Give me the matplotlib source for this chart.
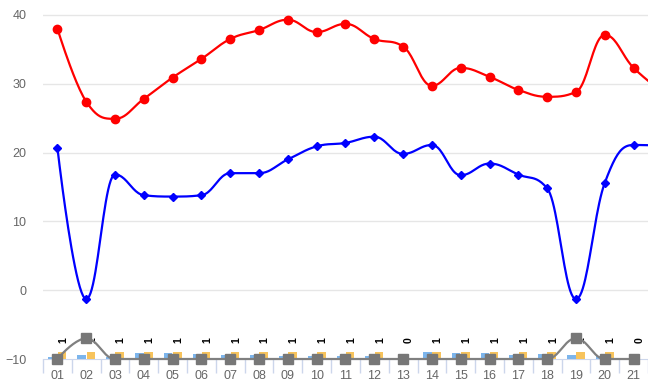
import numpy as np
import matplotlib
matplotlib.use("Agg")
import matplotlib.pyplot as plt

days = ["01", "02", "03", "04", "05", "06", "07", "08", "09", "10", "11",
        "12", "13", "14", "15", "16", "17", "18", "19", "20", "21"]
# last value of each line series belongs to the (cut-off) 22nd category
red_vals = [38.0, 27.4, 24.9, 27.8, 30.9, 33.6, 36.5, 37.8, 39.3, 37.5, 38.7,
            36.5, 35.4, 29.7, 32.3, 31.0, 29.1, 28.1, 28.8, 37.1, 32.3, 28.8]
blue_vals = [20.7, -1.3, 16.8, 13.8, 13.6, 13.8, 17.0, 17.0, 19.0, 20.9, 21.4,
             22.3, 19.8, 21.1, 16.7, 18.4, 16.8, 14.8, -1.3, 15.6, 21.1, 21.0]
gray_vals = [-10, -7, -10, -10, -10, -10, -10, -10, -10, -10, -10,
             -10, -10, -10, -10, -10, -10, -10, -7, -10, -10]
blue_bars = [0.3, 0.6, 0.35, 0.8, 0.8, 0.75, 0.6, 0.55, 0.45, 0.45, 0.45,
             0.45, 0.0, 0.95, 0.8, 0.8, 0.6, 0.75, 0.55, 0.5, 0.0]
orange_bars = [1.0, 1.0, 1.0, 1.0, 1.0, 1.0, 1.0, 1.0, 1.0, 1.0, 1.0,
               1.0, 0.0, 1.0, 1.0, 1.0, 1.0, 1.0, 1.0, 1.0, 0.0]
bar_labels = ["1", "1", "1", "1", "1", "1", "1", "1", "1", "1", "1",
              "1", "0", "1", "1", "1", "1", "1", "1", "1", "0"]


def spline(xs, ys, smoothing=1.5, n=24):
    # highcharts style spline through the points
    xs = list(map(float, xs)); ys = list(map(float, ys))
    m = len(xs)
    lc = [None] * m
    rc = [None] * m
    for i in range(1, m - 1):
        px, py = xs[i], ys[i]
        lx0, ly0 = xs[i - 1], ys[i - 1]
        nx0, ny0 = xs[i + 1], ys[i + 1]
        d = smoothing + 1
        lcx = (smoothing * px + lx0) / d
        lcy = (smoothing * py + ly0) / d
        rcx = (smoothing * px + nx0) / d
        rcy = (smoothing * py + ny0) / d
        if rcx != lcx:
            corr = (rcy - lcy) * (rcx - px) / (rcx - lcx) + py - rcy
            lcy += corr
            rcy += corr
            if lcy > ly0 and lcy > py:
                lcy = max(ly0, py); rcy = 2 * py - lcy
            elif lcy < ly0 and lcy < py:
                lcy = min(ly0, py); rcy = 2 * py - lcy
            if rcy > ny0 and rcy > py:
                rcy = max(ny0, py); lcy = 2 * py - rcy
            elif rcy < ny0 and rcy < py:
                rcy = min(ny0, py); lcy = 2 * py - rcy
        lc[i] = (lcx, lcy)
        rc[i] = (rcx, rcy)
    lc[0] = rc[0] = (xs[0], ys[0])
    lc[-1] = rc[-1] = (xs[-1], ys[-1])
    ox, oy = [xs[0]], [ys[0]]
    t = np.linspace(0, 1, n)[1:]
    for i in range(1, m):
        p0 = np.array([xs[i - 1], ys[i - 1]])
        p1 = np.array(rc[i - 1])
        p2 = np.array(lc[i])
        p3 = np.array([xs[i], ys[i]])
        b = ((1 - t) ** 3)[:, None] * p0 + (3 * (1 - t) ** 2 * t)[:, None] * p1 \
            + (3 * (1 - t) * t ** 2)[:, None] * p2 + (t ** 3)[:, None] * p3
        ox.extend(b[:, 0]); oy.extend(b[:, 1])
    return np.array(ox), np.array(oy)


plt.rcParams['font.family'] = ['Liberation Sans', 'DejaVu Sans']

fig = plt.figure(figsize=(6.48, 3.82), dpi=100)
ax = fig.add_axes([43 / 648, 23 / 382, 605 / 648, 351 / 382])

x = np.arange(1, len(days) + 1)
xl = np.arange(1, len(red_vals) + 1)

for v in [0, 10, 20, 30, 40]:
    ax.axhline(v, color="#e6e6e6", lw=1, zorder=0)

# small columns at the bottom
ax.bar(x - 0.16, blue_bars, width=0.3, bottom=-10, color="#7cb5ec", zorder=2)
ax.bar(x + 0.16, orange_bars, width=0.3, bottom=-10, color="#f7c35c", zorder=2)
for xi, lab in zip(x, bar_labels):
    ax.text(xi + 0.2, -7.2, lab, rotation=90, ha="center", va="center",
            fontsize=7.5, fontweight="bold", color="black", zorder=3,
            clip_on=False)

sx, sy = spline(xl, red_vals)
ax.plot(sx, sy, color="#ff0000", lw=1.6, zorder=4)
ax.plot(xl, red_vals, "o", color="#ff0000", ms=6, zorder=5)

sx, sy = spline(xl, blue_vals)
ax.plot(sx, sy, color="#0000ff", lw=1.6, zorder=4)
ax.plot(xl, blue_vals, "D", color="#0000ff", ms=4, zorder=5)

sx, sy = spline(x, gray_vals)
ax.plot(sx, sy, color="#808080", lw=1.6, zorder=4, clip_on=False)
ax.plot(x, gray_vals, "s", color="#777777", ms=6.5, zorder=5, clip_on=False)

ax.set_xlim(0.52, 21.24)
ax.set_ylim(-10, 41)
ax.set_yticks([-10, 0, 10, 20, 30, 40])
ax.tick_params(axis="y", length=0, pad=12, labelsize=9, labelcolor="#666666")
ax.set_xticks(x)
ax.set_xticklabels(days)
ax.set_xticks(np.arange(0.5, 22, 1), minor=True)
ax.tick_params(axis="x", which="major", length=0, pad=8, labelsize=9,
               labelcolor="#666666")
ax.tick_params(axis="x", which="minor", length=10, color="#ccd6eb", width=1)

for s in ["top", "right", "left"]:
    ax.spines[s].set_visible(False)
ax.spines["bottom"].set_color("#ccd6eb")
ax.spines["bottom"].set_zorder(1)

plt.savefig("out.png", dpi=100)
